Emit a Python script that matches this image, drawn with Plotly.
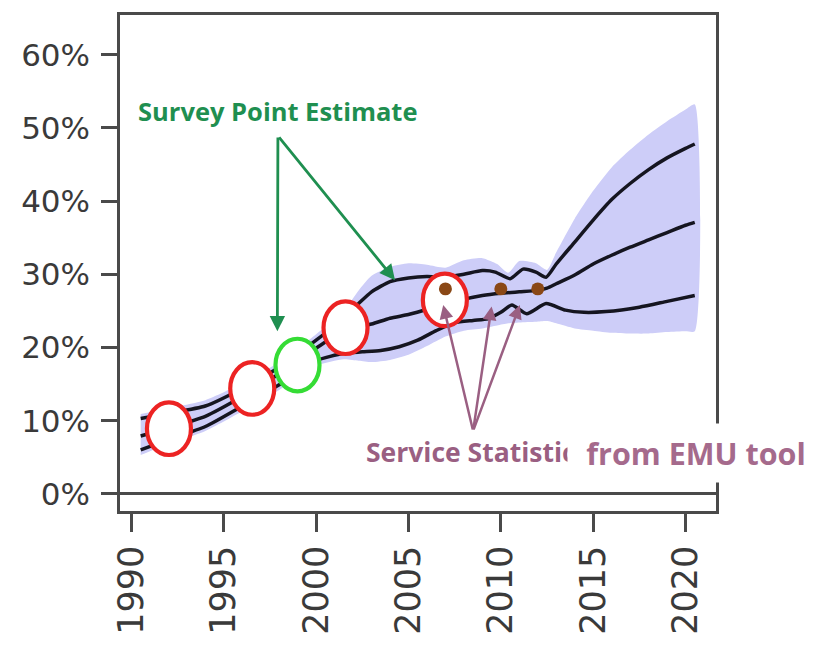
import plotly.graph_objects as go

# ---- projected prevalence lines (%), upper / median / lower ----
upper_years = [1990.5, 1992, 1994, 1996, 1998, 2000, 2001.5, 2002.3, 2003, 2004, 2005, 2006, 2007,
               2008, 2009, 2009.7, 2010.5, 2011.2, 2011.9, 2012.45, 2013, 2014, 2015, 2016, 2017,
               2018, 2019, 2020, 2020.5]
upper_vals = [10.3, 11.0, 12.0, 14.4, 17.3, 21.0, 24.0, 26.0, 27.6, 29.0, 29.5, 29.7, 29.6,
              30.0, 30.5, 30.3, 29.4, 30.7, 30.3, 29.6, 31.4, 34.4, 37.4, 40.2, 42.4,
              44.3, 45.9, 47.2, 47.8]

median_years = [1990.5, 1992, 1994, 1996, 1998, 2000, 2001.5, 2003, 2004, 2005, 2006, 2007, 2008,
                2009, 2010, 2011, 2012, 2012.5, 2013, 2014, 2015, 2016, 2017, 2018, 2019, 2020, 2020.5]
median_vals = [7.9, 9.0, 10.6, 13.3, 16.4, 19.9, 22.3, 23.2, 24.0, 24.5, 25.2, 25.9, 26.6,
               27.1, 27.4, 27.6, 27.8, 28.1, 28.7, 29.9, 31.4, 32.6, 33.7, 34.7, 35.7, 36.7, 37.1]

lower_years = [1990.5, 1992, 1994, 1996, 1998, 2000, 2001.5, 2002.5, 2003.5, 2004.5, 2005.5, 2006.5,
               2007.5, 2008.5, 2009.3, 2010, 2010.6, 2011.4, 2012.45, 2013.5, 2014.5, 2015.7, 2017.5,
               2019, 2020.5]
lower_vals = [6.0, 7.4, 9.2, 12.0, 14.9, 18.2, 19.2, 19.4, 19.6, 20.1, 21.0, 22.3,
              23.4, 23.7, 23.9, 24.8, 25.8, 24.6, 26.0, 25.1, 24.8, 24.9, 25.5,
              26.3, 27.1]

# ---- uncertainty band (%) ----
band_years = [1990.5, 1992, 1994, 1996, 1998, 2000, 2001.5, 2002.3, 2003, 2004, 2005, 2006, 2007,
              2008, 2009, 2009.8, 2010.4, 2011, 2011.9, 2012.5, 2013, 2014, 2015, 2016, 2017, 2018,
              2019, 2020, 2020.5]
band_hi = [10.9, 11.7, 12.8, 15.1, 18.0, 21.8, 25.0, 27.8, 29.8, 31.0, 31.5, 31.3, 30.9,
           31.9, 32.2, 31.4, 30.2, 31.8, 31.5, 30.6, 33.0, 37.6, 41.4, 44.6, 47.0, 49.1,
           50.9, 52.5, 53.2]
band_lo = [5.3, 6.8, 8.6, 11.3, 14.2, 17.5, 18.4, 18.2, 18.0, 18.3, 19.0, 20.2, 21.5,
           22.3, 22.6, 23.0, 23.3, 23.4, 23.5, 23.6, 23.3, 22.6, 22.3, 22.0, 21.9, 21.9,
           22.1, 22.2, 22.2]

# ---- observations ----
survey_years = [1992.03, 1996.54, 1998.99, 2001.59, 2006.97]
survey_vals = [8.9, 14.4, 17.6, 22.7, 26.5]
service_years = [2007.0, 2010.0, 2012.0]
service_vals = [28.0, 28.0, 28.0]

x_ticks = [1990, 1995, 2000, 2005, 2010, 2015, 2020]
y_ticks = [0, 10, 20, 30, 40, 50, 60]

# ---- layout geometry ----
W, H = 823, 647
ML, MR, MT, MB = 120, 107, 13, 134
X_RANGE = [1989.38, 2021.65]
Y_RANGE = [-2.34, 65.42]
plot_w = W - ML - MR
plot_h = H - MT - MB
px_per_year = plot_w / (X_RANGE[1] - X_RANGE[0])
px_per_pct = plot_h / (Y_RANGE[1] - Y_RANGE[0])

AXIS_GREY = "#4a4a4a"
BAND = "#cdcdf8"
GREEN_TXT = "#1f8f50"
MAUVE = "#9a5f82"
MAUVE_BOX = "#a56a8c"
ring_colors = ["#ec2323", "#ec2323", "#35dc35", "#ec2323", "#ec2323"]

fig = go.Figure()

fig.add_trace(go.Scatter(
    x=band_years + band_years[::-1],
    y=band_hi + band_lo[::-1],
    fill="toself", fillcolor=BAND, mode="lines",
    line=dict(width=0, color=BAND, shape="spline", smoothing=0.6),
    hoverinfo="skip", showlegend=False))

for xs, ys in [(upper_years, upper_vals), (median_years, median_vals), (lower_years, lower_vals)]:
    fig.add_trace(go.Scatter(
        x=xs, y=ys, mode="lines",
        line=dict(color="#151520", width=3.5, shape="spline", smoothing=0.6),
        hoverinfo="skip", showlegend=False))

shapes = []
# survey point rings (white-filled ellipses)
rx, ry = 22 / px_per_year, 26.5 / px_per_pct
for yr, v, c in zip(survey_years, survey_vals, ring_colors):
    shapes.append(dict(type="circle", xref="x", yref="y", layer="above",
                       x0=yr - rx, x1=yr + rx, y0=v - ry, y1=v + ry,
                       fillcolor="white", line=dict(color=c, width=4.2)))
# service statistic dots
dx, dy = 6.5 / px_per_year, 6.5 / px_per_pct
for yr, v in zip(service_years, service_vals):
    shapes.append(dict(type="circle", xref="x", yref="y", layer="above",
                       x0=yr - dx, x1=yr + dx, y0=v - dy, y1=v + dy,
                       fillcolor="#8a4816", line=dict(width=0)))

annotations = []
# survey arrows
for hx, hy in [(1997.9, 22.2), (2004.27, 29.2)]:
    annotations.append(dict(x=hx, y=hy, ax=1997.93, ay=48.9, xref="x", yref="y",
                            axref="x", ayref="y", text="", showarrow=True,
                            arrowhead=2, arrowsize=1.1, arrowwidth=2.8,
                            arrowcolor=GREEN_TXT, standoff=0))
# service statistic arrows
for hx, hy in [(2006.88, 25.8), (2009.5, 25.6), (2011.03, 25.8)]:
    annotations.append(dict(x=hx, y=hy, ax=2008.5, ay=8.6, xref="x", yref="y",
                            axref="x", ayref="y", text="", showarrow=True,
                            arrowhead=2, arrowsize=1.1, arrowwidth=2.5,
                            arrowcolor=MAUVE, standoff=0))

annotations.append(dict(text="<b>Survey Point Estimate</b>", xref="paper", yref="paper",
                        x=(136 - ML) / plot_w, y=(H - MB - 110) / plot_h,
                        xanchor="left", yanchor="middle", showarrow=False,
                        font=dict(family="Open Sans", size=25.5, color=GREEN_TXT)))
annotations.append(dict(text="<b>Service Statistics</b>", xref="paper", yref="paper",
                        x=(364 - ML) / plot_w, y=(H - MB - 454) / plot_h,
                        xanchor="left", yanchor="middle", showarrow=False,
                        font=dict(family="Open Sans", size=26.5, color=MAUVE)))
annotations.append(dict(text="<b>from EMU tool</b>", xref="paper", yref="paper",
                        x=(567 - ML) / plot_w, y=(H - MB - 455) / plot_h,
                        xanchor="left", yanchor="middle", showarrow=False,
                        width=256, height=58, align="center", valign="middle",
                        bgcolor="white", borderpad=0,
                        font=dict(family="Open Sans", size=30.5, color=MAUVE_BOX)))

fig.update_layout(
    width=W, height=H,
    margin=dict(l=ML, r=MR, t=MT, b=MB, pad=0),
    paper_bgcolor="white", plot_bgcolor="white",
    shapes=shapes, annotations=annotations, showlegend=False,
    xaxis=dict(range=X_RANGE, tickvals=x_ticks, ticktext=[str(t) for t in x_ticks],
               tickangle=-90, ticks="outside", ticklen=18, tickwidth=2.5, tickcolor=AXIS_GREY,
               showline=True, linecolor=AXIS_GREY, linewidth=2.5, mirror=True,
               showgrid=False, zeroline=False,
               tickfont=dict(family="DejaVu Sans", size=35, color="#3a3a3a")),
    yaxis=dict(range=Y_RANGE, tickvals=y_ticks, ticktext=[f"{t}%" for t in y_ticks],
               ticks="outside", ticklen=16, tickwidth=2.5, tickcolor=AXIS_GREY,
               ticklabelstandoff=5,
               showline=True, linecolor=AXIS_GREY, linewidth=2.5, mirror=True,
               showgrid=False, zeroline=True, zerolinecolor=AXIS_GREY, zerolinewidth=2.5,
               tickfont=dict(family="DejaVu Sans", size=31, color="#3a3a3a")),
)

fig.write_html("out.html")
